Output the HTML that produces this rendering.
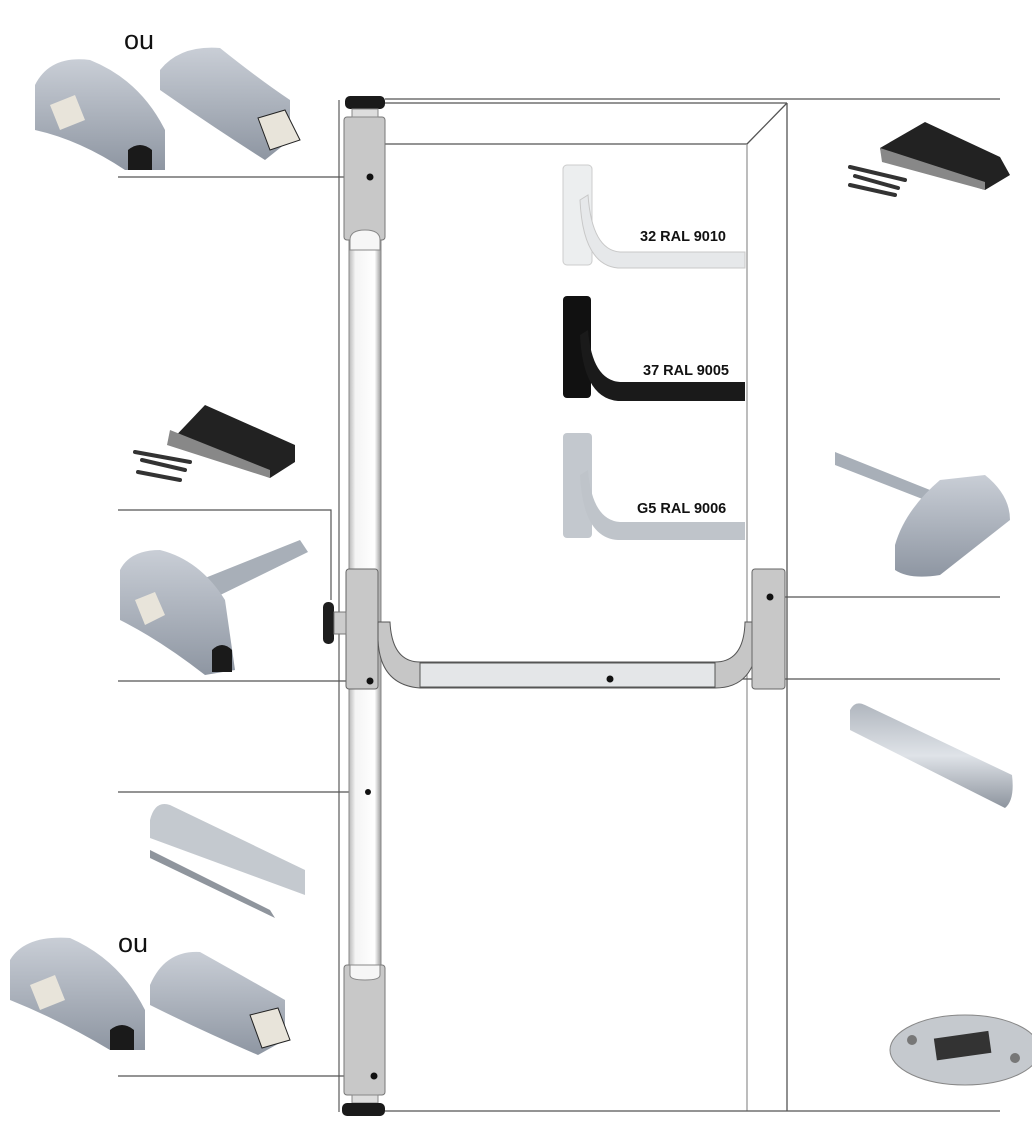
<!DOCTYPE html>
<html><head><meta charset="utf-8"><style>
html,body{margin:0;padding:0;background:#fff;}
svg{display:block;}
text{font-family:"Liberation Sans",sans-serif;}
</style></head><body>
<svg width="1032" height="1142" viewBox="0 0 1032 1142" xmlns="http://www.w3.org/2000/svg">
<defs>
<linearGradient id="gs" x1="0" y1="0" x2="0" y2="1"><stop offset="0" stop-color="#c9ced6"/><stop offset="1" stop-color="#8e96a2"/></linearGradient>
<linearGradient id="tube" x1="0" y1="0" x2="1" y2="0"><stop offset="0" stop-color="#b8b8b8"/><stop offset="0.2" stop-color="#f4f4f4"/><stop offset="0.8" stop-color="#ffffff"/><stop offset="1" stop-color="#9a9a9a"/></linearGradient>
<linearGradient id="tubeh" x1="0" y1="0" x2="0" y2="1"><stop offset="0" stop-color="#b0b6be"/><stop offset="0.5" stop-color="#dfe3e8"/><stop offset="1" stop-color="#8d949e"/></linearGradient>
</defs>

<!-- frame -->
<g fill="none" stroke="#555" stroke-width="1.3">
<line x1="385" y1="99" x2="1000" y2="99"/>
<line x1="385" y1="103" x2="787" y2="103"/>
<line x1="787" y1="103" x2="787" y2="1111"/>
<line x1="385" y1="144" x2="747" y2="144"/>
<line x1="747" y1="144" x2="747" y2="1111" stroke="#999"/>
<line x1="747" y1="144" x2="787" y2="103"/>
<line x1="385" y1="1111" x2="1000" y2="1111"/>
<line x1="339" y1="100" x2="339" y2="1112" stroke="#666"/>
</g>

<!-- callout lines -->
<g stroke="#555" stroke-width="1.2" fill="none">
<line x1="118" y1="177" x2="370" y2="177"/>
<polyline points="118,510 331,510 331,600"/>
<line x1="118" y1="681" x2="370" y2="681"/>
<line x1="118" y1="792" x2="368" y2="792"/>
<line x1="118" y1="1076" x2="374" y2="1076"/>
<line x1="770" y1="597" x2="1000" y2="597"/>
<line x1="610" y1="679" x2="1000" y2="679"/>
</g>

<!-- vertical rod -->
<rect x="349" y="235" width="32" height="735" fill="url(#tube)" stroke="#888"/>
<rect x="344" y="117" width="41" height="123" rx="3" fill="#c8c8c8" stroke="#777"/>
<path d="M350,240 Q350,230 365,230 Q380,230 380,240 L380,250 L350,250Z" fill="#f6f6f6" stroke="#888"/>
<rect x="345" y="96" width="40" height="13" rx="5" fill="#1a1a1a"/>
<rect x="352" y="109" width="26" height="8" fill="#ddd" stroke="#888"/>
<rect x="344" y="965" width="41" height="130" rx="3" fill="#c8c8c8" stroke="#777"/>
<path d="M350,965 L350,975 Q350,980 365,980 Q380,980 380,975 L380,965Z" fill="#f6f6f6" stroke="#888"/>
<rect x="352" y="1095" width="26" height="8" fill="#ddd" stroke="#888"/>
<rect x="342" y="1103" width="43" height="13" rx="5" fill="#1a1a1a"/>

<!-- middle left box + knob -->
<rect x="346" y="569" width="32" height="120" rx="3" fill="#c8c8c8" stroke="#666"/>
<rect x="323" y="602" width="11" height="42" rx="5" fill="#1e1e1e"/>
<rect x="334" y="612" width="12" height="22" fill="#ccc" stroke="#777"/>
<!-- horizontal bar -->
<path d="M378,622 L378,640 Q380,685 420,688 L715,688 Q755,688 758,640 L758,622 L745,622 Q744,662 715,662 L420,662 Q392,662 390,622Z" fill="#c6c6c6" stroke="#555"/>
<rect x="420" y="663" width="295" height="24" fill="#e4e6e8" stroke="#555"/>
<rect x="752" y="569" width="33" height="120" rx="3" fill="#c8c8c8" stroke="#666"/>

<!-- dots -->
<g fill="#111">
<circle cx="370" cy="177" r="3.5"/><circle cx="370" cy="681" r="3.5"/><circle cx="368" cy="792" r="3"/>
<circle cx="374" cy="1076" r="3.5"/><circle cx="770" cy="597" r="3.5"/><circle cx="610" cy="679" r="3.5"/>
</g>

<!-- handle variants -->
<g>
<rect x="563" y="165" width="29" height="100" rx="4" fill="#eceeef" stroke="#ccc"/>
<path d="M588,195 Q592,250 620,252 L745,252 L745,268 L618,268 Q583,265 580,200Z" fill="#e6e8ea" stroke="#c8c8c8"/>
<rect x="563" y="296" width="28" height="102" rx="4" fill="#111"/>
<path d="M588,330 Q592,380 620,382 L745,382 L745,401 L618,401 Q583,398 580,335Z" fill="#1a1a1a"/>
<rect x="563" y="433" width="29" height="105" rx="4" fill="#c3c8ce"/>
<path d="M588,470 Q592,520 620,522 L745,522 L745,540 L618,540 Q583,538 580,475Z" fill="#bfc4ca"/>
</g>
<g font-weight="bold" font-size="14.5" fill="#111">
<text x="640" y="241">32 RAL 9010</text>
<text x="643" y="375">37 RAL 9005</text>
<text x="637" y="513">G5 RAL 9006</text>
</g>
<text x="124" y="49" font-size="27" fill="#111">ou</text>
<text x="118" y="952" font-size="27" fill="#111">ou</text>

<!-- top-left locks -->
<g>
<path d="M35,85 Q50,55 90,60 Q140,80 165,130 L165,170 L125,170 Q80,140 35,130Z" fill="url(#gs)"/>
<path d="M50,105 L75,95 L85,120 L60,130Z" fill="#e8e4da"/>
<path d="M128,170 L128,150 Q140,140 152,150 L152,170Z" fill="#1a1a1a"/>
<path d="M160,70 Q180,45 220,48 Q260,80 290,100 L290,140 L265,160 Q210,125 160,90Z" fill="url(#gs)"/>
<path d="M258,118 L285,110 L300,140 L270,150Z" fill="#e8e4da" stroke="#222"/>
</g>
<!-- bottom-left locks -->
<g>
<path d="M10,960 Q25,935 70,938 Q120,960 145,1010 L145,1050 L110,1050 Q60,1020 10,1000Z" fill="url(#gs)"/>
<path d="M30,985 L55,975 L65,1000 L40,1010Z" fill="#e8e4da"/>
<path d="M110,1050 L110,1030 Q122,1020 134,1030 L134,1050Z" fill="#1a1a1a"/>
<path d="M150,985 Q165,950 200,952 Q250,980 285,1000 L285,1040 L258,1055 Q200,1030 150,1005Z" fill="url(#gs)"/>
<path d="M250,1015 L278,1008 L290,1040 L262,1048Z" fill="#e8e4da" stroke="#222"/>
</g>

<!-- left strike + screws -->
<g>
<path d="M167,445 L205,405 L295,445 L295,462 L270,478 L170,440Z" fill="#222"/>
<path d="M167,445 L170,430 L270,470 L270,478Z" fill="#888"/>
<g stroke="#333" stroke-width="4" stroke-linecap="round"><line x1="135" y1="452" x2="190" y2="462"/><line x1="138" y1="472" x2="180" y2="480"/><line x1="142" y1="460" x2="185" y2="470"/></g>
</g>
<!-- left lock with shaft -->
<g>
<path d="M200,580 L300,540 L308,552 L210,600Z" fill="#a8afb8"/>
<path d="M120,570 Q130,550 160,550 Q200,560 225,600 L235,670 L205,675 Q160,640 120,620Z" fill="url(#gs)"/>
<path d="M135,600 L155,592 L165,615 L145,625Z" fill="#e8e4da"/>
<path d="M212,672 L212,650 Q222,640 232,650 L232,672Z" fill="#1a1a1a"/>
</g>
<!-- left rail -->
<g>
<path d="M150,820 Q155,800 170,805 L305,870 L305,895 L150,838Z" fill="#c4c9cf"/>
<path d="M150,850 L270,910 L275,918 L150,858Z" fill="#8f959d"/>
</g>

<!-- right strike -->
<g>
<path d="M880,148 L925,122 L1000,157 L1010,175 L985,190 L882,158Z" fill="#222"/>
<path d="M880,148 L882,162 L985,190 L985,182Z" fill="#888"/>
<g stroke="#333" stroke-width="4" stroke-linecap="round"><line x1="850" y1="167" x2="905" y2="180"/><line x1="850" y1="185" x2="895" y2="195"/><line x1="855" y1="176" x2="898" y2="188"/></g>
</g>
<!-- right lock with shaft -->
<g>
<path d="M835,452 L930,490 L925,500 L835,465Z" fill="#a8afb8"/>
<path d="M895,545 Q905,510 940,480 L985,475 Q1010,495 1010,520 L940,575 Q910,580 895,570Z" fill="url(#gs)"/>
</g>
<!-- right tube -->
<path d="M850,710 Q855,700 865,705 L1012,775 Q1015,800 1005,808 L850,730Z" fill="url(#tubeh)"/>
<!-- floor strike -->
<g>
<ellipse cx="965" cy="1050" rx="75" ry="35" fill="#c5c9ce" stroke="#888"/>
<rect x="935" y="1035" width="55" height="22" fill="#333" transform="rotate(-8 960 1045)"/>
<circle cx="912" cy="1040" r="5" fill="#777"/><circle cx="1015" cy="1058" r="5" fill="#777"/>
</g>
</svg>
</body></html>
